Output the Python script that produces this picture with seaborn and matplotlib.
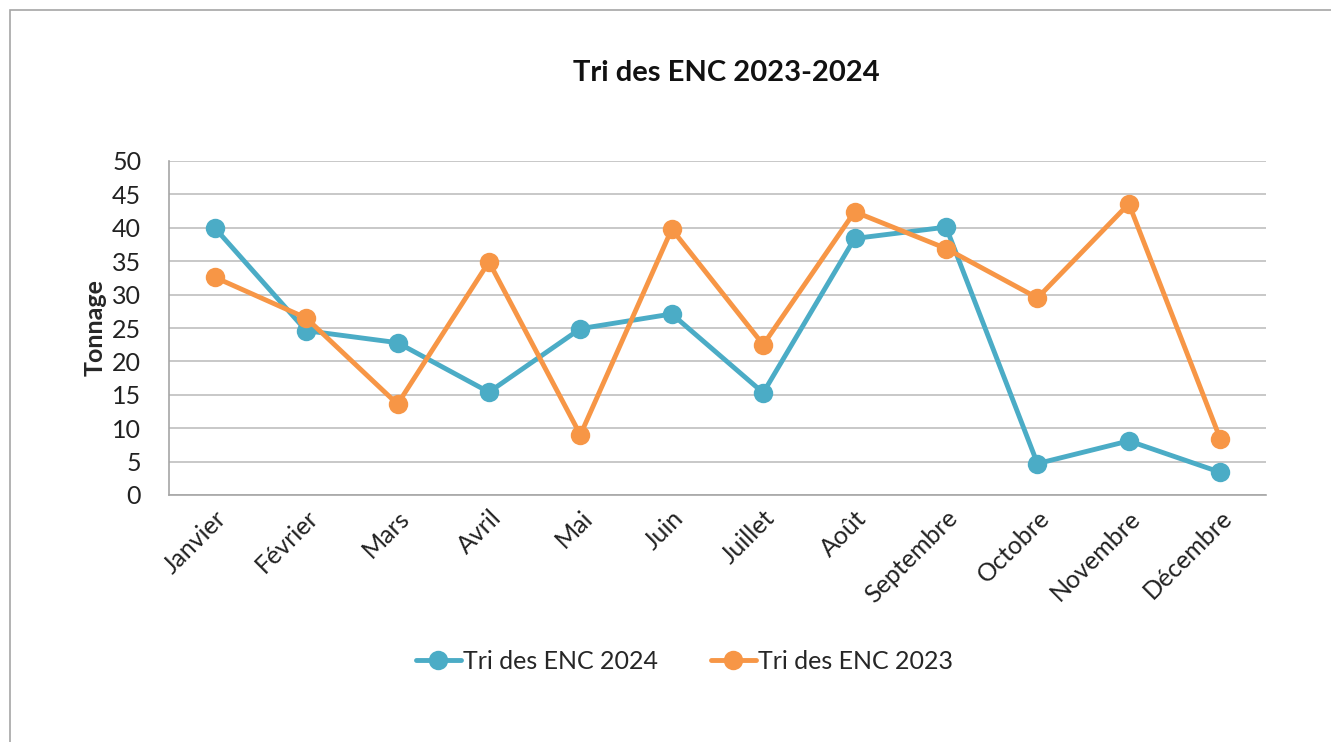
import matplotlib
matplotlib.use("Agg")
import matplotlib.pyplot as plt
import seaborn as sns
import pandas as pd
from matplotlib.patches import Rectangle

# Monthly tonnage
months = ["Janvier", "Février", "Mars", "Avril", "Mai", "Juin", "Juillet",
          "Août", "Septembre", "Octobre", "Novembre", "Décembre"]
tri_2024 = [40.0, 24.6, 22.8, 15.4, 24.9, 27.1, 15.3, 38.4, 40.1, 4.7, 8.1, 3.4]
tri_2023 = [32.6, 26.5, 13.6, 34.9, 9.0, 39.8, 22.5, 42.4, 36.9, 29.5, 43.6, 8.4]
series_names = ["Tri des ENC 2024", "Tri des ENC 2023"]
colors = ["#4BACC6", "#F79646"]

df = pd.DataFrame({
    "mois": months * 2,
    "tonnage": tri_2024 + tri_2023,
    "serie": [series_names[0]] * 12 + [series_names[1]] * 12,
})

sns.set_theme(style="white")
plt.rcParams['font.family'] = ['Lato', 'DejaVu Sans']

fig = plt.figure(figsize=(13.31, 7.42), dpi=100)
ax = fig.add_axes([169 / 1331, 1 - 495 / 742, (1266 - 169) / 1331, (495 - 161) / 742])

sns.lineplot(data=df, x="mois", y="tonnage", hue="serie", palette=colors,
             marker="o", markersize=14, markeredgewidth=0, linewidth=3.5,
             sort=False, ax=ax)

ax.set_xlim(-0.5, 11.5)
ax.set_ylim(0, 50)
ax.set_yticks(range(0, 51, 5))
ax.yaxis.grid(True, color="#BFBFBF", linewidth=1.2)
ax.set_axisbelow(True)
for side in ["top", "right"]:
    ax.spines[side].set_visible(False)
for side in ["left", "bottom"]:
    ax.spines[side].set_color("#A6A6A6")
    ax.spines[side].set_linewidth(1.2)

ax.tick_params(axis="y", labelsize=18, length=0, pad=20, colors="#222222")
ax.tick_params(axis="x", labelsize=18, length=0, pad=8, colors="#222222")
plt.setp(ax.get_xticklabels(), rotation=45, ha="right", rotation_mode="anchor")
ax.set_xlabel("")
ax.set_ylabel("Tonnage", fontsize=18, fontweight="bold", labelpad=4)

ax.legend(loc="center", bbox_to_anchor=(0.47, -0.498), ncol=2, frameon=False,
          fontsize=18, handlelength=1.8, handletextpad=0.1, columnspacing=2.1)

fig.text(726 / 1331, 1 - 73 / 742, "Tri des ENC 2023-2024", ha="center", va="center",
         fontsize=21, fontweight="bold", color="#111111")

# thin frame around the chart area
fig.patches.append(Rectangle((10 / 1331, -0.05), 1.2, 1 - 10 / 742 + 0.05,
                             transform=fig.transFigure, fill=False,
                             edgecolor="#A6A6A6", linewidth=1.2))

fig.savefig("out.png", dpi=100)
